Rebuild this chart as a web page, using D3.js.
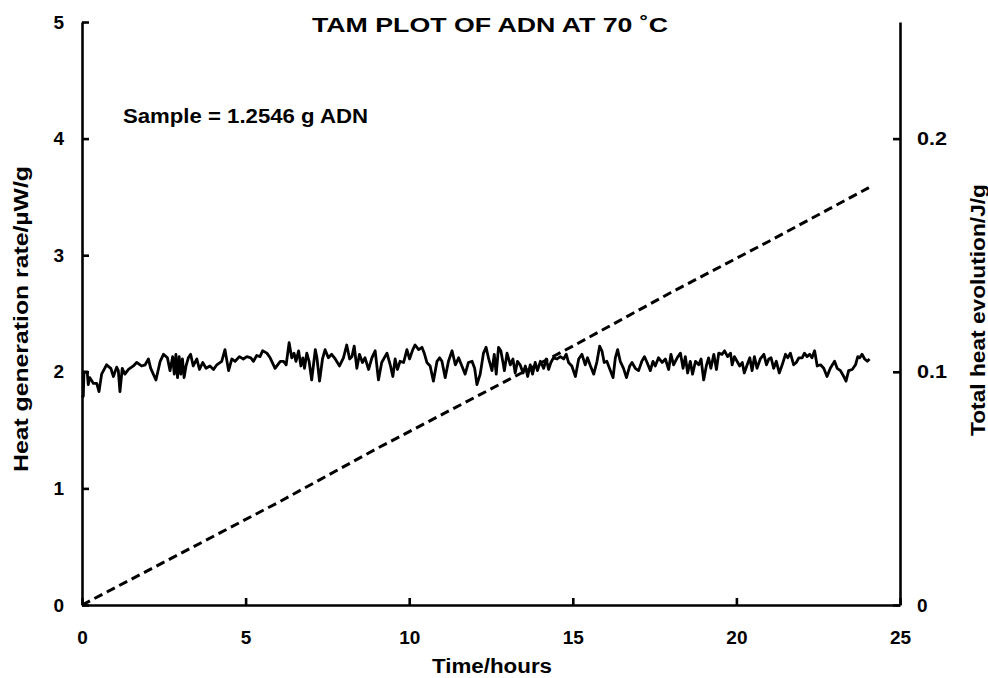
<!DOCTYPE html>
<html>
<head>
<meta charset="utf-8">
<script src="https://cdn.jsdelivr.net/npm/d3@7"></script>
<style>
  html, body { margin: 0; padding: 0; background: #fff; }
  svg { display: block; font-family: "Liberation Sans", Arial, Helvetica, sans-serif; }
  .tick text { font-weight: bold; font-size: 19px; fill: #000; }
</style>
</head>
<body>
<svg id="chart" width="988" height="678"></svg>
<script>
// ---- data ----
const title = "TAM PLOT OF ADN AT 70 \u02DAC";
const note = "Sample = 1.2546 g ADN";
const xLabel = "Time/hours";
const yLeftLabel = "Heat generation rate/\u00B5W/g";
const yRightLabel = "Total heat evolution/J/g";

const xTicks = [0, 5, 10, 15, 20, 25];
const yLeftTicks = [0, 1, 2, 3, 4, 5];
const yRightTicks = [0, 0.1, 0.2];

// heat generation rate (µW/g) vs time (h)
const rateTimes = [
  0.00,0.04,0.06,0.16,0.19,0.24,0.35,0.45,0.52,0.60,0.75,0.88,0.96,1.06,1.11,1.16,1.23,1.31,1.42,1.57,
  1.67,1.82,1.93,2.03,2.10,2.26,2.39,2.49,2.61,2.69,2.77,2.82,2.87,2.92,2.97,3.02,3.07,3.12,3.18,3.25,
  3.32,3.40,3.51,3.59,3.69,3.79,3.91,4.02,4.12,4.27,4.37,4.48,4.58,4.68,4.81,4.93,5.04,5.16,5.24,5.34,
  5.44,5.52,5.65,5.75,5.90,6.06,6.16,6.24,6.33,6.41,6.48,6.54,6.62,6.69,6.75,6.80,6.87,6.94,7.02,7.13,
  7.18,7.26,7.35,7.43,7.53,7.63,7.74,7.87,7.99,8.09,8.18,8.25,8.32,8.40,8.48,8.57,8.65,8.76,8.86,8.96,
  9.06,9.16,9.32,9.42,9.50,9.57,9.64,9.72,9.83,9.93,10.01,10.11,10.18,10.29,10.39,10.46,10.54,10.64,10.74,10.85,
  10.93,11.00,11.10,11.20,11.31,11.41,11.51,11.61,11.71,11.81,11.92,12.00,12.07,12.17,12.27,12.35,12.43,12.53,12.60,12.66,
  12.73,12.80,12.86,12.91,12.99,13.09,13.17,13.24,13.31,13.39,13.48,13.55,13.62,13.70,13.77,13.85,13.92,14.01,14.11,14.19,
  14.26,14.33,14.41,14.52,14.62,14.72,14.80,14.87,14.97,15.08,15.18,15.28,15.38,15.45,15.54,15.64,15.74,15.82,15.89,15.96,
  16.04,16.15,16.23,16.30,16.37,16.45,16.55,16.64,16.74,16.81,16.91,17.01,17.11,17.19,17.27,17.37,17.45,17.52,17.62,17.73,
  17.83,17.93,18.00,18.08,18.19,18.29,18.37,18.44,18.51,18.59,18.66,18.75,18.85,18.92,19.00,19.08,19.15,19.22,19.31,19.39,
  19.46,19.56,19.64,19.73,19.82,19.87,19.94,20.02,20.10,20.18,20.24,20.33,20.41,20.48,20.55,20.63,20.73,20.84,20.92,20.99,
  21.06,21.14,21.22,21.31,21.40,21.50,21.57,21.65,21.75,21.83,21.91,22.01,22.08,22.16,22.24,22.31,22.39,22.47,22.57,22.67,
  22.77,22.87,23.00,23.08,23.18,23.28,23.35,23.43,23.54,23.64,23.71,23.77,23.84,23.92,24.00,24.07
];
const rateValues = [
  1.78,1.79,2.00,2.00,1.89,1.95,1.90,1.90,1.83,1.98,2.06,2.03,1.96,2.04,2.01,1.83,2.03,1.98,2.02,2.05,
  2.08,2.05,2.06,2.11,2.03,1.93,2.09,2.15,2.12,2.01,2.13,1.98,2.15,1.95,2.13,1.98,2.11,1.95,2.05,2.12,
  2.15,2.05,2.11,2.02,2.08,2.03,2.05,2.02,2.06,2.09,2.19,2.01,2.11,2.09,2.13,2.11,2.13,2.12,2.09,2.14,
  2.13,2.18,2.16,2.12,2.03,2.09,2.09,2.06,2.25,2.12,2.16,2.09,2.18,2.05,2.12,2.03,2.16,2.09,1.93,2.19,
  2.12,1.92,2.11,2.19,2.12,2.15,2.11,2.05,2.12,2.23,2.11,2.13,2.22,2.03,2.15,2.08,2.12,2.02,2.12,2.18,
  1.93,2.08,2.16,2.06,1.96,2.11,2.02,2.09,2.08,2.19,2.11,2.19,2.23,2.19,2.21,2.16,2.08,2.05,1.92,2.09,
  2.12,2.09,1.95,2.09,2.18,2.06,2.12,2.05,1.98,2.08,2.09,2.03,1.89,1.98,2.16,2.21,2.11,2.01,2.15,1.98,
  2.21,2.18,2.09,2.01,2.16,2.06,2.11,1.99,2.09,2.06,1.99,2.05,1.96,2.06,1.98,2.08,2.01,2.09,2.03,2.11,
  2.02,2.08,2.12,2.11,2.13,2.11,2.15,2.08,2.05,1.96,2.11,2.15,2.06,2.12,2.05,1.98,2.09,2.22,2.18,2.08,
  2.09,2.01,1.95,2.12,2.19,2.09,2.03,1.95,2.05,2.08,2.03,2.01,2.09,2.13,2.08,2.01,2.09,2.05,2.12,2.08,
  2.11,2.02,2.15,2.06,2.12,2.16,2.03,2.13,1.99,2.09,1.98,2.09,2.06,2.11,1.93,2.05,2.12,2.03,2.15,2.02,
  2.16,2.15,2.18,2.13,2.16,2.06,2.13,2.09,2.05,2.08,1.99,2.06,2.12,2.01,2.13,2.03,2.11,2.15,2.06,2.11,
  2.12,2.03,2.09,1.99,2.06,2.15,2.12,2.16,2.06,2.08,2.12,2.12,2.16,2.13,2.15,2.12,2.18,2.05,2.06,2.03,
  1.96,2.03,2.09,2.03,2.01,1.96,1.92,2.01,2.02,2.06,2.13,2.12,2.15,2.11,2.09,2.11
];

// total heat evolution (J/g) vs time (h)
const totalTimes = [0, 3, 6, 9, 12, 15, 18, 21, 24.05];
const totalValues = [0, 0.022, 0.044, 0.067, 0.089, 0.111, 0.134, 0.156, 0.179];

// ---- layout ----
const svg = d3.select("#chart");
const L = 82, R = 900, T = 22, B = 605;

const x = d3.scaleLinear().domain([0, 25]).range([L, R]);
const yL = d3.scaleLinear().domain([0, 5]).range([B, T]);
const yR = d3.scaleLinear().domain([0, 0.25]).range([B, T]);

// axes
const axB = svg.append("g").attr("transform", `translate(0,${B})`)
  .call(d3.axisBottom(x).tickValues(xTicks).tickFormat(d3.format("d"))
    .tickSizeInner(-7).tickSizeOuter(0).tickPadding(26));
const axL = svg.append("g").attr("transform", `translate(${L},0)`)
  .call(d3.axisLeft(yL).tickValues(yLeftTicks).tickFormat(d3.format("d"))
    .tickSizeInner(-7).tickSizeOuter(0).tickPadding(18));
const axR = svg.append("g").attr("transform", `translate(${R},0)`)
  .call(d3.axisRight(yR).tickValues(yRightTicks).tickFormat(d => d === 0 ? "0" : d3.format(".1f")(d))
    .tickSizeInner(-7).tickSizeOuter(0).tickPadding(17));

[axB, axL, axR].forEach(g => {
  g.select(".domain").attr("stroke", "#000").attr("stroke-width", 2.6);
  g.selectAll(".tick line").attr("stroke", "#000").attr("stroke-width", 2.6);
  g.attr("font-family", null).attr("font-size", null);
});
axR.selectAll(".tick text").filter(d => d !== 0)
  .attr("textLength", 30).attr("lengthAdjust", "spacingAndGlyphs");

// series
const rateData = rateTimes.map((t, i) => [t, rateValues[i]]);
const totalData = totalTimes.map((t, i) => [t, totalValues[i]]);

svg.append("path")
  .datum(rateData)
  .attr("fill", "none").attr("stroke", "#000").attr("stroke-width", 2.8)
  .attr("stroke-linejoin", "round")
  .attr("d", d3.line().x(d => x(d[0])).y(d => yL(d[1])));

svg.append("path")
  .datum(totalData)
  .attr("fill", "none").attr("stroke", "#000").attr("stroke-width", 3)
  .attr("stroke-dasharray", "9,5")
  .attr("d", d3.line().x(d => x(d[0])).y(d => yR(d[1])));

// texts
function label(txt, size, len) {
  return svg.append("text")
    .attr("font-weight", "bold").attr("font-size", size)
    .attr("textLength", len).attr("lengthAdjust", "spacingAndGlyphs")
    .text(txt);
}

label(title, 21, 356).attr("x", 490 - 178).attr("y", 32);
label(note, 20, 245).attr("x", 123).attr("y", 122.5);
label(xLabel, 20, 120).attr("x", 432).attr("y", 673);
label(yLeftLabel, 19.5, 306)
  .attr("transform", `translate(27.5,472) rotate(-90)`);
label(yRightLabel, 19.5, 252)
  .attr("transform", `translate(984.5,436) rotate(-90)`);
</script>
</body>
</html>
